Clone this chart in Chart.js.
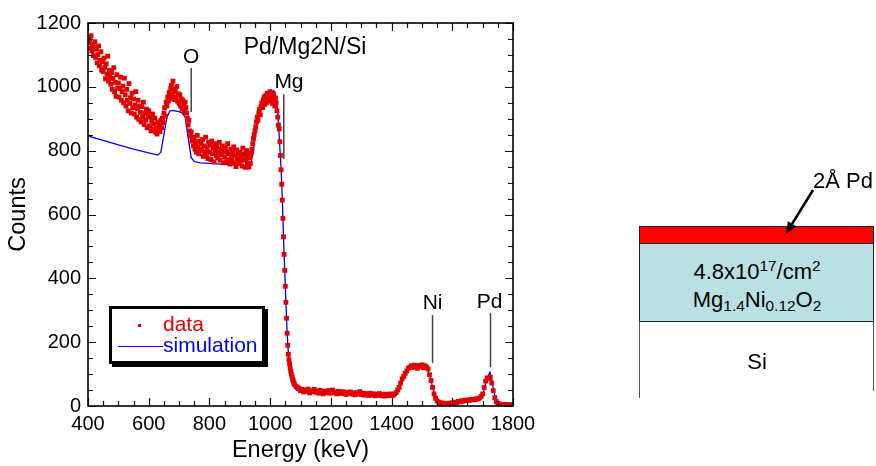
<!DOCTYPE html>
<html>
<head>
<meta charset="utf-8">
<script src="https://cdn.jsdelivr.net/npm/chart.js@4.4.1/dist/chart.umd.min.js"></script>
<style>
  body { margin: 0; background: #fff; }
  #wrap { position: relative; width: 876px; height: 466px; overflow: hidden;
          font-family: "Liberation Sans", Arial, sans-serif; color: #000; }
  #chart { position: absolute; left: 0; top: 0; }
  .box { position: absolute; box-sizing: border-box; }
  .lbl { position: absolute; transform: translate(-50%, -50%); white-space: nowrap; font-size: 22px; line-height: 1; }
  .lbl sup, .lbl sub { font-size: 70%; line-height: 0; }
  .lbl sup { vertical-align: 0.55em; }
  .lbl sub { vertical-align: -0.25em; }
</style>
</head>
<body>
<div id="wrap">
  <canvas id="chart" width="876" height="466"></canvas>

  <!-- layer sketch on the right -->
  <div class="box" style="left:639px;top:226px;width:235px;height:18px;background:#ff0000;border:1px solid #222;"></div>
  <div class="box" style="left:639px;top:243px;width:235px;height:79px;background:#b9e0e3;border:1px solid #222;"></div>
  <div class="box" style="left:639px;top:321px;width:1px;height:77px;background:#555;"></div>
  <div class="box" style="left:873px;top:321px;width:1px;height:70px;background:#555;"></div>
  <div class="lbl" style="left:757px;top:272px;">4.8x10<sup>17</sup>/cm<sup>2</sup></div>
  <div class="lbl" style="left:757px;top:300px;">Mg<sub>1.4</sub>Ni<sub>0.12</sub>O<sub>2</sub></div>
  <div class="lbl" style="left:757px;top:362px;">Si</div>
  <div class="lbl" style="left:843px;top:181px;">2Å Pd</div>
  <svg class="box" style="left:0;top:0;" width="876" height="466">
    <line x1="813" y1="190" x2="792" y2="224" stroke="#000" stroke-width="2.5"/>
    <polygon points="786,234 796.5,226.4 787.9,221.2" fill="#000"/>
  </svg>
</div>

<script>
// measured spectrum, channel energies in keV
const lowStart = 400, lowStep = 2.5;
const countsLow = [
  1155, 1138, 1147, 1121, 1160, 1112, 1132, 1098, 1125, 1141,
  1092, 1118, 1075, 1101, 1128, 1066, 1083, 1110, 1052, 1079,
  1048, 1090, 1061, 1025, 1072, 1040, 1096, 1018, 1052, 1031,
  1008, 1045, 992, 1026, 1060, 985, 1014, 970, 1038, 996,
  1012, 968, 995, 1030, 958, 985, 1002, 950, 1027, 975,
  940, 992, 958, 925, 1010, 948, 966, 918, 980, 935,
  962, 915, 943, 985, 905, 932, 958, 898, 940, 920,
  890, 938, 905, 952, 882, 918, 896, 930, 872, 910,
  925, 878, 905, 862, 893, 915, 868, 884, 902, 858,
  870, 852, 889, 864, 878, 860, 895, 872, 902, 888,
  918, 935, 908, 952, 940, 968, 955, 982, 962, 995,
  1005, 972, 1018, 985, 960, 992, 968, 1001, 955, 978,
  948, 975, 940, 962, 930, 958, 945, 920, 952, 935,
  918, 902, 880, 895, 862, 845, 858, 830, 842, 815,
  838, 805, 825, 795, 848, 812, 790, 830, 805, 822,
  800, 835, 782, 815, 796, 842, 788, 810, 775, 826,
  795, 818, 772, 830, 790, 808, 765, 822, 798, 784,
  812, 778, 795, 826, 770, 805, 788, 815, 762, 798,
  780, 808, 765, 795, 822, 772, 790, 758, 805, 785,
  770, 798, 812, 762, 785, 750, 802, 775, 790, 760,
  795, 768, 782, 752, 808, 770, 790, 748, 775, 800,
  762, 785, 748, 778, 760, 792, 805, 822, 838, 850,
  862, 875, 890, 905, 895, 918, 930, 912, 938, 950,
  935, 958, 968, 945, 972, 950, 980, 962, 955, 975,
  985, 958, 970, 948, 978, 960, 940, 965, 950, 925,
  905, 880
];
const edgeStart = 1030, edgeStep = 2;
const countsEdge = [
  868, 828, 785, 740, 695, 645, 588, 530, 475, 425,
  375, 325, 275, 228, 190, 162, 145, 132, 118, 108,
  100, 92, 84, 80, 72, 68
];
const highStart = 1085, highStep = 5;
const countsHigh = [
  62, 58, 55, 48, 52, 44, 50, 46, 53, 41,
  48, 45, 52, 43, 47, 40, 49, 44, 38, 46,
  42, 48, 40, 45, 50, 41, 44, 38, 46, 42,
  39, 45, 40, 36, 43, 39, 44, 37, 41, 35,
  42, 38, 45, 36, 40, 34, 39, 37, 33, 40,
  35, 38, 32, 37, 34, 39, 33, 36, 31, 37,
  34, 32, 38, 35, 33, 38, 42, 50, 58, 72,
  85, 93, 102, 110, 118, 122, 126, 121, 128, 124,
  118, 127, 123, 129, 120, 126, 122, 116, 98, 80,
  58, 38, 24, 16, 12, 10, 8, 9, 7, 8,
  6, 9, 8, 10, 9, 12, 11, 14, 13, 16,
  15, 18, 17, 19, 18, 20, 19, 21, 20, 23,
  22, 25, 30, 38, 58, 78, 88, 86, 90, 72,
  48, 26, 14, 8, 6, 5, 4, 5, 4, 3,
  4, 3, 4, 3
];

// simulated spectrum
const simEnergy = [
  400, 450, 500, 550, 600, 630, 640, 650, 660, 670,
  680, 690, 700, 710, 720, 730, 740, 750, 770, 800,
  850, 900, 935, 945, 955, 965, 975, 985, 995, 1005,
  1012, 1018, 1024, 1028, 1032, 1036, 1040, 1044, 1048, 1052,
  1056, 1060, 1064, 1068, 1072, 1078, 1085, 1095, 1100, 1150,
  1200, 1250, 1300, 1350, 1400, 1415, 1425, 1440, 1455, 1465,
  1480, 1500, 1515, 1525, 1535, 1545, 1555, 1570, 1600, 1650,
  1690, 1700, 1710, 1718, 1724, 1730, 1737, 1745, 1755, 1800
];
const simCounts = [
  846, 832, 818, 805, 793, 786, 795, 850, 905, 925,
  926, 924, 922, 918, 905, 840, 778, 766, 762, 760,
  757, 754, 752, 800, 880, 925, 950, 962, 972, 982,
  988, 975, 930, 880, 810, 745, 650, 530, 425, 325,
  230, 165, 125, 100, 80, 62, 52, 46, 44, 43,
  42, 40, 38, 36, 35, 40, 55, 95, 118, 124,
  126, 126, 122, 100, 60, 25, 12, 8, 9, 17,
  24, 35, 70, 95, 106, 80, 45, 15, 5, 3
];

const xTicks = { min: 400, max: 1800, major: 200, minor: 50 };
const yTicks = { min: 0, max: 1200, major: 200, minor: 50 };

const peakLabels = [
  { text: 'O',  at: 740,  labelY: 1093, lineTop: 1059, lineBottom: 921 },
  { text: 'Mg', at: 1045, labelX: 1062, labelY: 1015, lineTop: 977, lineBottom: 774 },
  { text: 'Ni', at: 1535, labelY: 323, lineTop: 285, lineBottom: 135 },
  { text: 'Pd', at: 1726, labelX: 1723, labelY: 326, lineTop: 291, lineBottom: 122 }
];
const plotTitle = 'Pd/Mg2N/Si';

function toPoints(start, step, counts) {
  return counts.map((c, i) => ({ x: start + i * step, y: c }));
}
const measured = [].concat(
  toPoints(lowStart, lowStep, countsLow),
  toPoints(edgeStart, edgeStep, countsEdge),
  toPoints(highStart, highStep, countsHigh)
);
const simulated = simEnergy.map((e, i) => ({ x: e, y: simCounts[i] }));

const FONT = '"Liberation Sans", Arial, sans-serif';
Chart.defaults.font.family = FONT;
Chart.defaults.color = '#000';

// box round the plot with inward ticks on all sides
const frameTicks = {
  id: 'frameTicks',
  afterDatasetsDraw(chart) {
    const { ctx, chartArea: a, scales: { x, y } } = chart;
    ctx.save();
    ctx.strokeStyle = '#111';
    ctx.lineWidth = 1.2;
    ctx.beginPath();
    for (let v = xTicks.min; v <= xTicks.max; v += xTicks.minor) {
      const len = v % xTicks.major === 0 ? 8 : 5;
      const px = Math.round(x.getPixelForValue(v)) + 0.5;
      ctx.moveTo(px, a.bottom); ctx.lineTo(px, a.bottom - len);
      ctx.moveTo(px, a.top); ctx.lineTo(px, a.top + len);
    }
    for (let v = yTicks.min; v <= yTicks.max; v += yTicks.minor) {
      const len = v % yTicks.major === 0 ? 8 : 5;
      const py = Math.round(y.getPixelForValue(v)) + 0.5;
      ctx.moveTo(a.left, py); ctx.lineTo(a.left + len, py);
      ctx.moveTo(a.right, py); ctx.lineTo(a.right - len, py);
    }
    ctx.stroke();
    ctx.lineWidth = 1.6;
    ctx.strokeStyle = '#000';
    ctx.strokeRect(a.left, a.top, a.right - a.left, a.bottom - a.top);
    ctx.restore();
  }
};

// element markers and title inside the plot
const peakMarks = {
  id: 'peakMarks',
  afterDatasetsDraw(chart) {
    const { ctx, scales: { x, y } } = chart;
    ctx.save();
    ctx.strokeStyle = '#444';
    ctx.lineWidth = 1.5;
    ctx.fillStyle = '#000';
    ctx.textAlign = 'center';
    ctx.textBaseline = 'middle';
    ctx.font = '21px ' + FONT;
    peakLabels.forEach(p => {
      const px = x.getPixelForValue(p.at);
      ctx.beginPath();
      ctx.moveTo(px, y.getPixelForValue(p.lineTop));
      ctx.lineTo(px, y.getPixelForValue(p.lineBottom));
      ctx.stroke();
      ctx.fillText(p.text, x.getPixelForValue(p.labelX || p.at), y.getPixelForValue(p.labelY));
    });
    ctx.font = '23px ' + FONT;
    ctx.fillText(plotTitle, x.getPixelForValue(1115), y.getPixelForValue(1122));
    ctx.restore();
  }
};

// boxed legend with a drop shadow, lower left
const boxLegend = {
  id: 'boxLegend',
  afterDraw(chart) {
    const { ctx } = chart;
    const ds = chart.data.datasets;
    const bx = 109, by = 306, bw = 156, bh = 58;
    ctx.save();
    ctx.fillStyle = '#000';
    ctx.fillRect(bx + 3, by + 3, bw, bh);
    ctx.fillStyle = '#fff';
    ctx.fillRect(bx, by, bw, bh);
    ctx.lineWidth = 3;
    ctx.strokeStyle = '#000';
    ctx.strokeRect(bx + 1.5, by + 1.5, bw - 3, bh - 3);
    ctx.font = '21px ' + FONT;
    ctx.textBaseline = 'middle';
    ctx.textAlign = 'left';
    ctx.fillStyle = ds[0].backgroundColor;
    ctx.fillRect(138, 324, 3, 3);
    ctx.fillText(ds[0].label, 163, 325);
    ctx.strokeStyle = ds[1].borderColor;
    ctx.lineWidth = 1.2;
    ctx.beginPath();
    ctx.moveTo(118, 346.5); ctx.lineTo(163, 346.5);
    ctx.stroke();
    ctx.fillStyle = ds[1].borderColor;
    ctx.fillText(ds[1].label, 163, 346);
    ctx.restore();
  }
};

new Chart(document.getElementById('chart'), {
  type: 'scatter',
  data: {
    datasets: [
      {
        label: 'data',
        data: measured,
        backgroundColor: '#e30000',
        borderColor: '#e30000',
        pointStyle: 'rect',
        pointRadius: 3.4,
        pointBorderWidth: 0,
        showLine: false
      },
      {
        label: 'simulation',
        data: simulated,
        borderColor: '#0000ff',
        backgroundColor: '#0000ff',
        borderWidth: 1.3,
        pointRadius: 0,
        showLine: true
      }
    ]
  },
  options: {
    responsive: false,
    animation: false,
    layout: { padding: { left: 0, top: 23, right: 363, bottom: 0 } },
    plugins: { legend: { display: false }, tooltip: { enabled: false } },
    scales: {
      x: {
        type: 'linear',
        min: xTicks.min,
        max: xTicks.max,
        afterFit: s => { s.height = 60; },
        grid: { display: false, drawTicks: false },
        border: { display: false },
        ticks: { stepSize: xTicks.major, padding: 6, font: { size: 20 }, color: '#000', callback: v => String(v) },
        title: { display: true, text: 'Energy (keV)', font: { size: 23.5 }, color: '#000', padding: { top: 0, bottom: 1 } }
      },
      y: {
        min: yTicks.min,
        max: yTicks.max,
        afterFit: s => { s.width = 88; },
        grid: { display: false, drawTicks: false },
        border: { display: false },
        ticks: { stepSize: yTicks.major, padding: 7, font: { size: 20 }, color: '#000', callback: v => String(v) },
        title: { display: true, text: 'Counts', font: { size: 23.5 }, color: '#000', padding: { top: 4, bottom: 0 } }
      }
    }
  },
  plugins: [frameTicks, peakMarks, boxLegend]
});
</script>
</body>
</html>
